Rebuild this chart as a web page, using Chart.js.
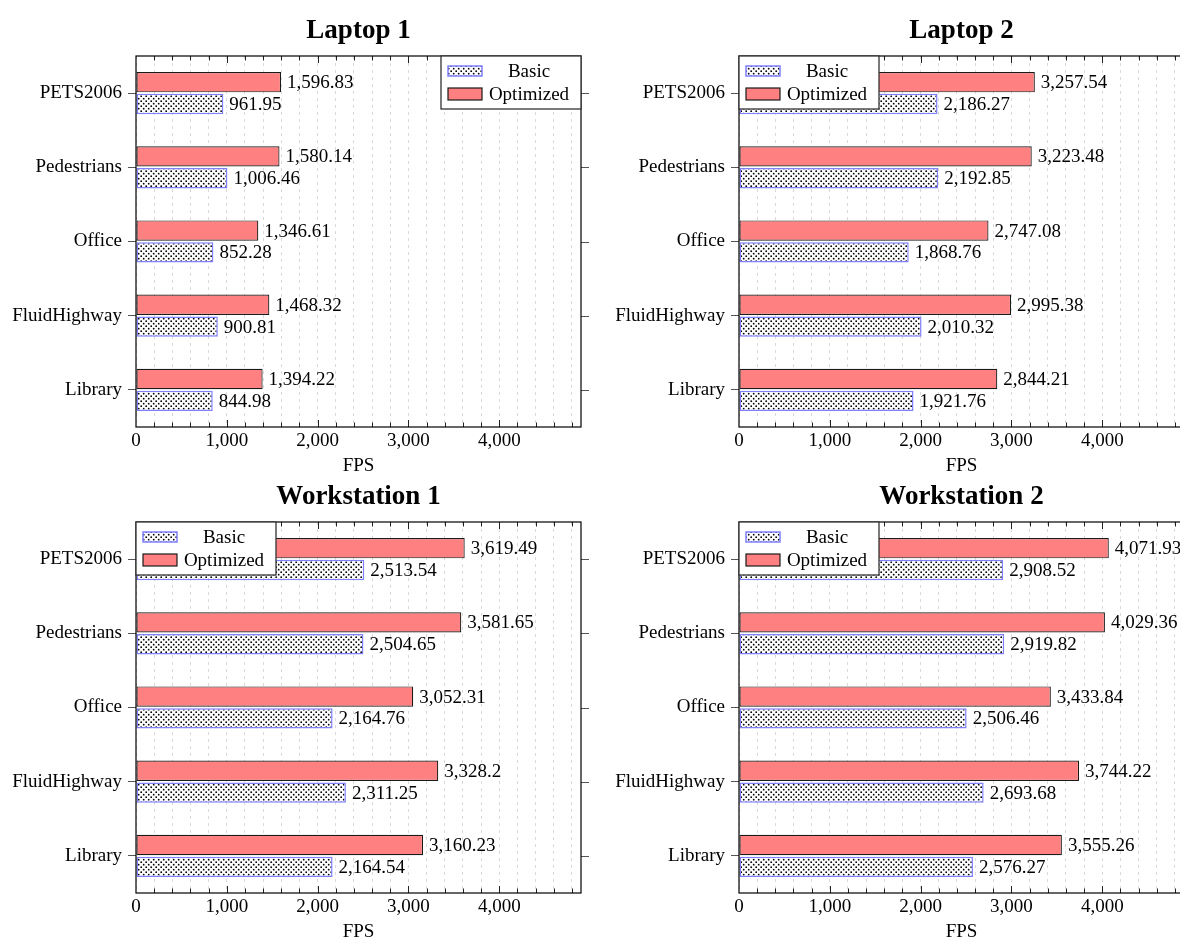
<!DOCTYPE html>
<html>
<head>
<meta charset="utf-8">
<title>FPS: Basic vs Optimized</title>
<script src="https://cdn.jsdelivr.net/npm/chart.js@4.4.1/dist/chart.umd.min.js"></script>
<style>
    html, body { margin: 0; padding: 0; background: #fff; overflow: hidden; }
    #wrap { position: relative; width: 1180px; height: 940px; overflow: hidden; }
    canvas { position: absolute; }
</style>
</head>
<body>
<div id="wrap">
    <canvas id="laptop1" width="590" height="477" style="left:0;top:0"></canvas>
    <canvas id="laptop2" width="590" height="477" style="left:600px;top:0"></canvas>
    <canvas id="ws1" width="590" height="477" style="left:0;top:466px"></canvas>
    <canvas id="ws2" width="590" height="477" style="left:600px;top:466px"></canvas>
</div>
<script>
// Sequences, top to bottom
const categories = ['PETS2006', 'Pedestrians', 'Office', 'FluidHighway', 'Library'];

const laptop1Basic = [961.95, 1006.46, 852.28, 900.81, 844.98];
const laptop1Optimized = [1596.83, 1580.14, 1346.61, 1468.32, 1394.22];

const laptop2Basic = [2186.27, 2192.85, 1868.76, 2010.32, 1921.76];
const laptop2Optimized = [3257.54, 3223.48, 2747.08, 2995.38, 2844.21];

const ws1Basic = [2513.54, 2504.65, 2164.76, 2311.25, 2164.54];
const ws1Optimized = [3619.49, 3581.65, 3052.31, 3328.2, 3160.23];

const ws2Basic = [2908.52, 2919.82, 2506.46, 2693.68, 2576.27];
const ws2Optimized = [4071.93, 4029.36, 3433.84, 3744.22, 3555.26];

const FONT = '"Liberation Serif", "Times New Roman", serif';
const SIZE = 19;

Chart.defaults.font.family = FONT;
Chart.defaults.color = '#000';

function fmt(v) {
    return v.toLocaleString('en-US', { maximumFractionDigits: 2 });
}

/**
 * Dotted fill used for the Basic bars (like pgf "crosshatch dots")
 */
function makeDots() {
    const c = document.createElement('canvas');
    c.width = 5;
    c.height = 5;
    const g = c.getContext('2d');
    g.fillStyle = '#fff';
    g.fillRect(0, 0, 5, 5);
    g.fillStyle = '#000';
    g.beginPath();
    g.arc(1.2, 1.2, 0.9, 0, Math.PI * 2);
    g.fill();
    g.beginPath();
    g.arc(3.7, 3.7, 0.9, 0, Math.PI * 2);
    g.fill();
    return g.createPattern(c, 'repeat');
}
const dots = makeDots();

// labels, inner ticks, frame and the boxed legend
const benchPlugin = {
    id: 'bench',
    afterDatasetsDraw(chart, args, opts) {
        const ctx = chart.ctx;
        const area = chart.chartArea;
        const xs = chart.scales.x;
        const ys = chart.scales.y;

        ctx.save();
        // value labels at the end of each bar
        ctx.font = SIZE + 'px ' + FONT;
        ctx.fillStyle = '#000';
        ctx.textAlign = 'left';
        ctx.textBaseline = 'middle';
        chart.data.datasets.forEach((ds, i) => {
            chart.getDatasetMeta(i).data.forEach((bar, j) => {
                ctx.fillText(fmt(ds.data[j]), bar.x + 6, bar.y + 1);
            });
        });

        // x ticks drawn inside, top and bottom
        ctx.strokeStyle = '#222';
        ctx.lineWidth = 1;
        xs.ticks.forEach(t => {
            if (t.value <= 0 || t.value >= xs.max) return;
            const px = Math.round(xs.getPixelForValue(t.value)) + 0.5;
            const len = t.value % 1000 === 0 ? 7 : 4.5;
            ctx.beginPath();
            ctx.moveTo(px, area.bottom);
            ctx.lineTo(px, area.bottom - len);
            ctx.moveTo(px, area.top);
            ctx.lineTo(px, area.top + len);
            ctx.stroke();
        });

        // y ticks on the right side, outward
        ctx.strokeStyle = '#555';
        categories.forEach((c, i) => {
            const py = Math.round(ys.getPixelForValue(i)) + 0.5;
            ctx.beginPath();
            ctx.moveTo(area.right, py);
            ctx.lineTo(area.right + 8, py);
            ctx.stroke();
        });

        // frame
        ctx.strokeStyle = '#000';
        ctx.lineWidth = 1.2;
        ctx.strokeRect(area.left, area.top, area.right - area.left, area.bottom - area.top);

        // legend box
        const w = 140, h = 53;
        const lx = opts.legend === 'right' ? area.right - w : area.left;
        const ly = area.top;
        ctx.fillStyle = '#fff';
        ctx.fillRect(lx, ly, w, h);
        ctx.strokeStyle = '#333';
        ctx.lineWidth = 1.3;
        ctx.strokeRect(lx, ly, w, h);

        const entries = [
            { text: 'Basic', ds: chart.data.datasets[1], cy: ly + 15, sh: 10 },
            { text: 'Optimized', ds: chart.data.datasets[0], cy: ly + 38, sh: 12 }
        ];
        ctx.font = SIZE + 'px ' + FONT;
        ctx.textAlign = 'center';
        entries.forEach(e => {
            const sx = lx + 7, sy = e.cy - e.sh / 2;
            ctx.fillStyle = e.ds.backgroundColor;
            ctx.fillRect(sx, sy, 34, e.sh);
            ctx.strokeStyle = e.ds.borderColor;
            ctx.lineWidth = e.ds.borderWidth;
            ctx.strokeRect(sx, sy, 34, e.sh);
            ctx.fillStyle = '#000';
            ctx.fillText(e.text, lx + 88, e.cy + 1);
        });
        ctx.restore();
    }
};

/**
 * Builds one of the four panels
 */
function makeChart(id, title, basic, optimized, legendSide, yWidth, rightPad) {
    const ctx = document.getElementById(id).getContext('2d');

    return new Chart(ctx, {
        type: 'bar',
        data: {
            labels: categories,
            datasets: [{
                label: 'Optimized',
                data: optimized,
                backgroundColor: '#ff8080',
                borderColor: '#1a1a1a',
                borderWidth: 1.2,
                borderSkipped: false
            }, {
                label: 'Basic',
                data: basic,
                backgroundColor: dots,
                borderColor: '#8080ff',
                borderWidth: 1.5,
                borderSkipped: false
            }]
        },
        options: {
            indexAxis: 'y',
            responsive: false,
            animation: false,
            categoryPercentage: 0.59,
            barPercentage: 0.93,
            layout: {
                padding: { left: 0, right: rightPad, top: 0, bottom: 0 }
            },
            plugins: {
                legend: { display: false },
                tooltip: { enabled: false },
                title: {
                    display: true,
                    text: title,
                    fullSize: false,
                    font: { size: 27, weight: 'bold', family: FONT, lineHeight: 1.2 },
                    color: '#000',
                    padding: { top: 15, bottom: 8.6 }
                },
                bench: { legend: legendSide }
            },
            scales: {
                x: {
                    min: 0,
                    max: 4900,
                    grid: {
                        color: '#d9d9d9',
                        lineWidth: 1,
                        drawTicks: false
                    },
                    border: { display: false, dash: [3, 4] },
                    ticks: {
                        stepSize: 200,
                        autoSkip: false,
                        maxRotation: 0,
                        includeBounds: false,
                        padding: 3,
                        font: { size: SIZE },
                        callback: v => (v % 1000 === 0 ? fmt(v) : '')
                    },
                    title: {
                        display: true,
                        text: 'FPS',
                        font: { size: SIZE },
                        padding: { top: 1, bottom: 0 }
                    },
                    afterFit: s => { s.height = 50; }
                },
                y: {
                    grid: {
                        drawOnChartArea: false,
                        offset: false,
                        tickLength: 8,
                        color: '#555'
                    },
                    border: { display: false },
                    ticks: {
                        padding: 6,
                        font: { size: SIZE }
                    },
                    afterFit: s => { s.width = yWidth; }
                }
            }
        },
        plugins: [benchPlugin]
    });
}

makeChart('laptop1', 'Laptop 1', laptop1Basic, laptop1Optimized, 'right', 136, 9);
makeChart('laptop2', 'Laptop 2', laptop2Basic, laptop2Optimized, 'left', 139, 6);
makeChart('ws1', 'Workstation 1', ws1Basic, ws1Optimized, 'left', 136, 9);
makeChart('ws2', 'Workstation 2', ws2Basic, ws2Optimized, 'left', 139, 6);
</script>
</body>
</html>
